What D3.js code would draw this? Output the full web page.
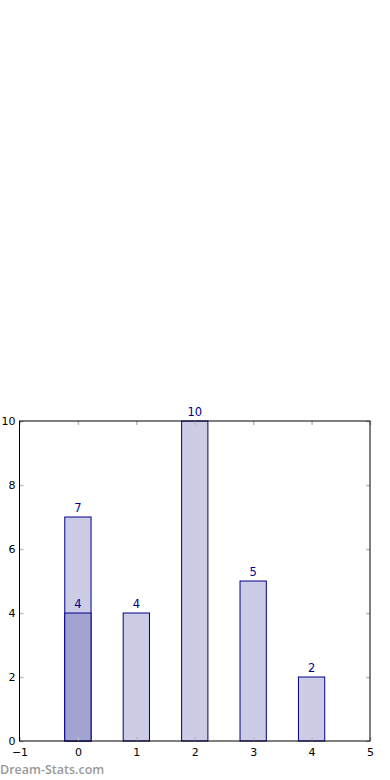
<!DOCTYPE html>
<meta charset="utf-8">
<head>
  <title>Bars</title>
  <script src="https://d3js.org/d3.v7.min.js"></script>
  <style>
    body { margin: 0; background: white; }
    text { font-family: "DejaVu Sans", sans-serif; }
    .tick text { font-size: 11px; fill: black; }
    .bar { fill: #ccccE6; stroke: #00008b; stroke-width: 1; }
    .bar.inner { fill: #a3a3d1; }
    .lbl { font-size: 11.5px; fill: #00008b; text-anchor: middle; }
  </style>
</head>
<body>
<script>
  var categories = [0, 1, 2, 3, 4];
  var totals = [7, 4, 10, 5, 2];
  var highlight = [4, null, null, null, null];
  var xTicks = [-1, 0, 1, 2, 3, 4, 5];
  var yTicks = [0, 2, 4, 6, 8, 10];

  var margin = { top: 421, right: 20, bottom: 39, left: 19.5 };
  var width = 390 - margin.left - margin.right;
  var height = 780 - margin.top - margin.bottom;

  var svg = d3.select("body").append("svg")
    .attr("width", 390)
    .attr("height", 780);

  var g = svg.append("g")
    .attr("transform", "translate(" + margin.left + "," + margin.top + ")");

  var x = d3.scaleLinear().domain([-1, 5]).range([0, width]);
  var y = d3.scaleLinear().domain([0, 10]).range([height, 0]);
  var bw = 0.45;

  var data = categories.map(function(c, i) {
    return { c: c, v: totals[i], h: highlight[i] };
  });

  g.selectAll(".bar.outer")
    .data(data)
    .enter().append("rect")
    .attr("class", "bar outer")
    .attr("x", function(d) { return x(d.c - bw / 2); })
    .attr("width", function(d) { return x(d.c + bw / 2) - x(d.c - bw / 2); })
    .attr("y", function(d) { return y(d.v); })
    .attr("height", function(d) { return y(0) - y(d.v); });

  var hl = data.filter(function(d) { return d.h != null; });
  g.selectAll(".bar.inner")
    .data(hl)
    .enter().append("rect")
    .attr("class", "bar inner")
    .attr("x", function(d) { return x(d.c - bw / 2); })
    .attr("width", function(d) { return x(d.c + bw / 2) - x(d.c - bw / 2); })
    .attr("y", function(d) { return y(d.h); })
    .attr("height", function(d) { return y(0) - y(d.h); });

  // value labels
  g.selectAll(".lbl.outer")
    .data(data)
    .enter().append("text")
    .attr("class", "lbl")
    .attr("x", function(d) { return x(d.c); })
    .attr("y", function(d) { return y(d.v) - 5; })
    .text(function(d) { return d.v; });

  g.selectAll(".lbl.inner")
    .data(hl)
    .enter().append("text")
    .attr("class", "lbl")
    .attr("x", function(d) { return x(d.c); })
    .attr("y", function(d) { return y(d.h) - 5; })
    .text(function(d) { return d.h; });

  // ticks inside on all four sides
  function tickStyle(sel) {
    sel.select(".domain").remove();
    sel.selectAll(".tick line").attr("stroke", "#bbb").attr("stroke-width", 1.5);
  }
  var fmt = function(d) { return d < 0 ? "\u2212" + Math.abs(d) : d; };

  g.append("g")
    .attr("transform", "translate(0," + height + ")")
    .call(d3.axisBottom(x).tickValues(xTicks).tickSize(-4).tickPadding(7).tickFormat(fmt))
    .call(tickStyle);
  g.append("g")
    .call(d3.axisTop(x).tickValues(xTicks).tickSize(-4).tickFormat(""))
    .call(tickStyle);
  g.append("g")
    .call(d3.axisLeft(y).tickValues(yTicks).tickSize(-4).tickPadding(4))
    .call(tickStyle);
  g.append("g")
    .attr("transform", "translate(" + width + ",0)")
    .call(d3.axisRight(y).tickValues(yTicks).tickSize(-4).tickFormat(""))
    .call(tickStyle);

  g.append("rect")
    .attr("width", width)
    .attr("height", height)
    .attr("fill", "none")
    .attr("stroke", "black")
    .attr("stroke-width", 1);

  svg.append("text")
    .attr("x", 0)
    .attr("y", 774)
    .attr("fill", "#999")
    .style("font-family", "'Open Sans', sans-serif")
    .style("font-size", "12.5px")
    .style("font-weight", "600")
    .text("Dream-Stats.com");
</script>
</body>
</html>
